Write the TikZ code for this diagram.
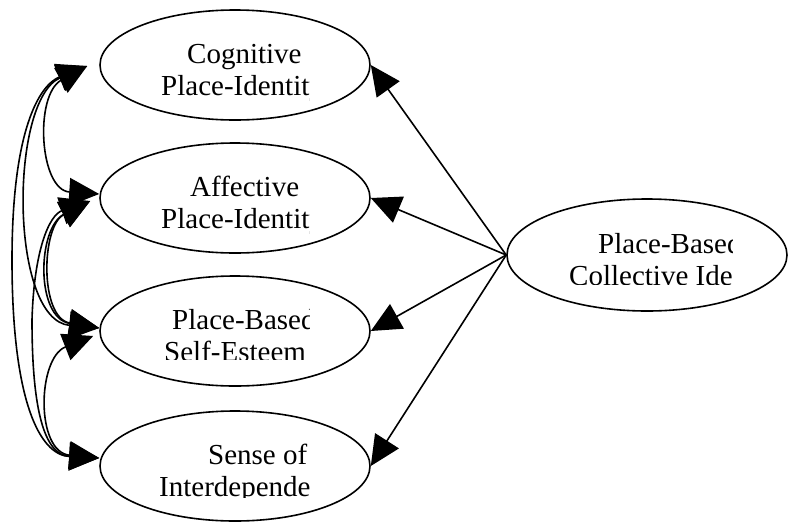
\documentclass[tikz,border=0pt]{standalone}
\usepackage{fontspec}
\setmainfont{Liberation Serif}
\usetikzlibrary{arrows.meta,shapes.geometric}
\begin{document}
\begin{tikzpicture}[x=1pt,y=-1pt,
  >={Triangle[length=30pt,width=28pt]},
  ell/.style={ellipse,draw,line width=1.6pt,minimum width=270pt,minimum height=110pt,inner sep=0pt},
  lbl/.style={anchor=base west,inner sep=0pt,font=\fontsize{29}{32}\selectfont},
  cov/.style={line width=1.6pt,<->},
  load/.style={line width=1.6pt,->}]
\useasboundingbox (0,0) rectangle (788,523);

% ellipses
\node[ell] (C) at (235,65) {};
\node[ell] (A) at (235,198) {};
\node[ell] (S) at (235,331) {};
\node[ell] (I) at (235,466) {};
\node[ell,minimum width=280pt,minimum height=112pt] (P) at (647,255) {};

% labels (clipped as in the reference)
\begin{scope}
  \clip (100,0) rectangle (309,130);
  \node[lbl] (C1) at (187,63) {Cognitive};
  \node[lbl] (C2) at (161,95) {Place-Identity};
\end{scope}
\begin{scope}
  \clip (100,140) rectangle (309,260);
  \node[lbl] (A1) at (190,196) {Affective};
  \node[lbl] (A2) at (161,228) {Place-Identity};
\end{scope}
\begin{scope}
  \clip (100,270) rectangle (309.5,359.5);
  \node[lbl] (S1) at (172,329) {Place-Based};
  \node[lbl] (S2) at (164,361) {Self-Esteem};
\end{scope}
\begin{scope}
  \clip (100,400) rectangle (309.5,497.5);
  \node[lbl] (I1) at (208,464) {Sense of};
  \node[lbl] (I2) at (159,496) {Interdependence};
\end{scope}
\begin{scope}
  \clip (510,190) rectangle (732.3,284.5);
  \node[lbl] (P1) at (598,253) {Place-Based};
  \node[lbl] (P2) at (569,285) {Collective Identity};
\end{scope}

% arrow tip points on the left side
\coordinate (Cl) at ([xshift=-12pt,yshift=-1pt]C.west);
\coordinate (Al) at ([xshift=-9pt,yshift=-3pt]A.west);
\coordinate (Sl) at ([xshift=-6pt,yshift=-5pt]S.west);
\coordinate (Au) at ([yshift=4pt]A.west);
\coordinate (Su) at ([yshift=3pt]S.west);
\coordinate (Iu) at ([yshift=8pt]I.west);
\coordinate (w1) at (12,260);
\coordinate (w2) at (32,320);

% covariances
\draw[cov] (Cl) .. controls +(-53,29) and +(-60,-4) .. (Au);
\draw[cov] (Cl) .. controls +(-78,34) and +(-90,-8) .. (Su);
\draw[cov] (Cl) .. controls +(-48,19) and +(0,-130) .. (w1) .. controls +(0,140) and +(-60,-3) .. (Iu);
\draw[cov] (Al) .. controls +(-53,27) and +(-64,-10) .. (Su);
\draw[cov] (Al) .. controls +(-49,25) and +(-60,-10) .. (Su);
\draw[cov] (Al) .. controls +(-41,14) and +(2,-70) .. (w2) .. controls +(0,90) and +(-55,-3) .. (Iu);
\draw[cov] (Sl) .. controls +(-56,22) and +(-64,-6) .. (Iu);

% loadings
\draw[load] (P.west) -- (C.east);
\draw[load] (P.west) -- (A.east);
\draw[load] (P.west) -- (S.east);
\draw[load] (P.west) -- (I.east);
\end{tikzpicture}
\end{document}
